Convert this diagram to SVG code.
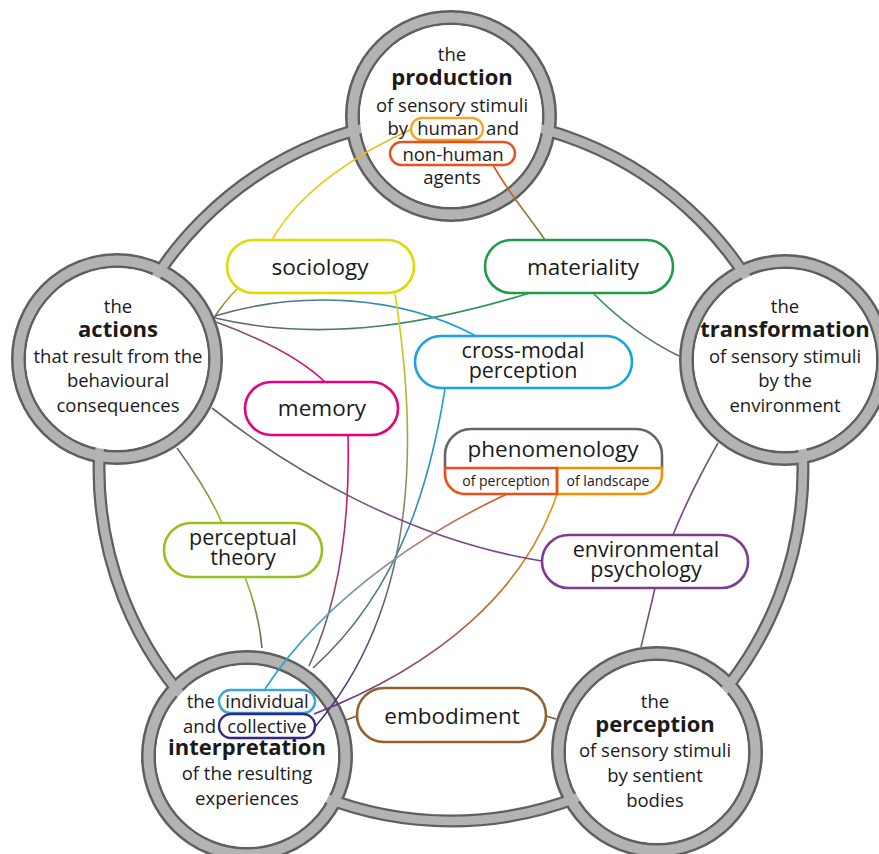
<svg xmlns="http://www.w3.org/2000/svg" width="879" height="854" viewBox="0 0 879 854">
  <style>
    text { font-family: "Open Sans", "Liberation Sans", sans-serif; fill: #1a1a1a; text-anchor: middle; }
    .t { font-size: 18.5px; }
    .b { font-size: 22px; font-weight: 700; }
    .p { font-size: 22.5px; }
    .p2 { font-size: 21.5px; }
    .s { font-size: 14px; }
    .ringDark { fill: none; stroke: #5f5f5f; }
    .ringLight { fill: none; stroke: #b3b3b3; }
    .hole { fill: #ffffff; }
    .pill { fill: #ffffff; stroke-width: 2.6; }
    .tag { fill: none; stroke-width: 2.4; }
    .link { fill: none; stroke-width: 1.6; }
  </style>
  <defs>
    <linearGradient id="g1" gradientUnits="userSpaceOnUse" x1="412" y1="129" x2="272" y2="240"><stop offset="0" stop-color="#f2b01e"/><stop offset="1" stop-color="#e3d800"/></linearGradient>
    <linearGradient id="g2" gradientUnits="userSpaceOnUse" x1="493" y1="165" x2="545" y2="240"><stop offset="0" stop-color="#e8501e"/><stop offset="1" stop-color="#5f8f3a"/></linearGradient>
    <linearGradient id="g3" gradientUnits="userSpaceOnUse" x1="214" y1="318" x2="238" y2="288"><stop offset="0" stop-color="#666"/><stop offset="1" stop-color="#c9c200"/></linearGradient>
    <linearGradient id="g4" gradientUnits="userSpaceOnUse" x1="215" y1="318" x2="530" y2="293"><stop offset="0" stop-color="#666"/><stop offset="1" stop-color="#1d9c4a"/></linearGradient>
    <linearGradient id="g5" gradientUnits="userSpaceOnUse" x1="215" y1="316" x2="476" y2="336"><stop offset="0" stop-color="#666"/><stop offset="1" stop-color="#1aa3e0"/></linearGradient>
    <linearGradient id="g6" gradientUnits="userSpaceOnUse" x1="216" y1="322" x2="325" y2="382"><stop offset="0" stop-color="#666"/><stop offset="1" stop-color="#e6007e"/></linearGradient>
    <linearGradient id="g7" gradientUnits="userSpaceOnUse" x1="594" y1="294" x2="679" y2="356"><stop offset="0" stop-color="#1d9c4a"/><stop offset="1" stop-color="#666"/></linearGradient>
    <linearGradient id="g8" gradientUnits="userSpaceOnUse" x1="395" y1="294" x2="314" y2="728"><stop offset="0" stop-color="#e3d800"/><stop offset="0.45" stop-color="#8a8a6a"/><stop offset="1" stop-color="#312782"/></linearGradient>
    <linearGradient id="g9" gradientUnits="userSpaceOnUse" x1="445" y1="389" x2="313" y2="668"><stop offset="0" stop-color="#1aa3e0"/><stop offset="1" stop-color="#666"/></linearGradient>
    <linearGradient id="g10" gradientUnits="userSpaceOnUse" x1="348" y1="436" x2="309" y2="666"><stop offset="0" stop-color="#e6007e"/><stop offset="1" stop-color="#666"/></linearGradient>
    <linearGradient id="g11" gradientUnits="userSpaceOnUse" x1="507" y1="494" x2="265" y2="689"><stop offset="0" stop-color="#e94e1b"/><stop offset="0.5" stop-color="#8a9aa0"/><stop offset="1" stop-color="#1aa3e0"/></linearGradient>
    <linearGradient id="g12" gradientUnits="userSpaceOnUse" x1="557" y1="494" x2="314" y2="714"><stop offset="0" stop-color="#f39200"/><stop offset="1" stop-color="#5b2d8e"/></linearGradient>
    <linearGradient id="g13" gradientUnits="userSpaceOnUse" x1="177" y1="448" x2="222" y2="523"><stop offset="0" stop-color="#666"/><stop offset="1" stop-color="#95c11f"/></linearGradient>
    <linearGradient id="g14" gradientUnits="userSpaceOnUse" x1="245" y1="577" x2="262" y2="648"><stop offset="0" stop-color="#95c11f"/><stop offset="1" stop-color="#666"/></linearGradient>
    <linearGradient id="g15" gradientUnits="userSpaceOnUse" x1="212" y1="408" x2="542" y2="561"><stop offset="0" stop-color="#666"/><stop offset="1" stop-color="#7d3c92"/></linearGradient>
    <linearGradient id="g16" gradientUnits="userSpaceOnUse" x1="718" y1="443" x2="673" y2="535"><stop offset="0" stop-color="#666"/><stop offset="1" stop-color="#7d3c92"/></linearGradient>
    <linearGradient id="g17" gradientUnits="userSpaceOnUse" x1="655" y1="588" x2="641" y2="647"><stop offset="0" stop-color="#7d3c92"/><stop offset="1" stop-color="#666"/></linearGradient>
  </defs>

  <!-- outer ring and the five hubs: dark outlines first, grey bands over them, then white faces -->
  <g id="ring">
    <circle class="ringDark" cx="451" cy="469" r="352" stroke-width="13"/>
    <circle class="ringDark" cx="451" cy="116" r="98.5" stroke-width="15"/>
    <circle class="ringDark" cx="785" cy="360" r="98.5" stroke-width="15"/>
    <circle class="ringDark" cx="657" cy="752" r="98.5" stroke-width="15"/>
    <circle class="ringDark" cx="247" cy="756" r="98.5" stroke-width="15"/>
    <circle class="ringDark" cx="117" cy="359" r="98.5" stroke-width="15"/>
    <circle class="ringLight" cx="451" cy="469" r="352" stroke-width="8.5"/>
    <circle class="ringLight" cx="451" cy="116" r="98.5" stroke-width="10"/>
    <circle class="ringLight" cx="785" cy="360" r="98.5" stroke-width="10"/>
    <circle class="ringLight" cx="657" cy="752" r="98.5" stroke-width="10"/>
    <circle class="ringLight" cx="247" cy="756" r="98.5" stroke-width="10"/>
    <circle class="ringLight" cx="117" cy="359" r="98.5" stroke-width="10"/>
    <circle class="hole" cx="451" cy="116" r="91"/>
    <circle class="hole" cx="785" cy="360" r="91"/>
    <circle class="hole" cx="657" cy="752" r="91"/>
    <circle class="hole" cx="247" cy="756" r="91"/>
    <circle class="hole" cx="117" cy="359" r="91"/>
  </g>

  <g id="connectors">
    <path class="link" stroke="url(#g1)" d="M412 129 C360 152 300 190 272 240"/>
    <path class="link" stroke="url(#g2)" d="M493 165 C510 195 528 215 545 240"/>
    <path class="link" stroke="url(#g3)" d="M214 318 C222 305 230 296 238 288"/>
    <path class="link" stroke="url(#g4)" d="M215 318 C330 345 440 320 530 293"/>
    <path class="link" stroke="url(#g5)" d="M215 316 C300 290 400 295 476 336"/>
    <path class="link" stroke="url(#g6)" d="M216 322 C260 338 300 358 325 382"/>
    <path class="link" stroke="url(#g7)" d="M594 294 C620 320 650 342 679 356"/>
    <path class="link" stroke="url(#g8)" d="M395 294 C415 420 425 600 314 728"/>
    <path class="link" stroke="url(#g9)" d="M445 389 C432 470 405 585 313 668"/>
    <path class="link" stroke="url(#g10)" d="M348 436 C350 520 340 600 309 666"/>
    <path class="link" stroke="url(#g11)" d="M507 494 C440 525 330 590 265 689"/>
    <path class="link" stroke="url(#g12)" d="M557 494 C525 590 440 665 314 714"/>
    <path class="link" stroke="url(#g13)" d="M177 448 C193 470 210 495 222 523"/>
    <path class="link" stroke="url(#g14)" d="M245 577 C254 600 260 625 262 648"/>
    <path class="link" stroke="url(#g15)" d="M212 408 C290 470 410 540 542 561"/>
    <path class="link" stroke="url(#g16)" d="M718 443 C700 475 685 505 673 535"/>
    <path class="link" stroke="url(#g17)" d="M655 588 C650 610 645 630 641 647"/>
    <path class="link" stroke="#7a5a3a" d="M357 716 L346 720"/>
    <path class="link" stroke="#7a5a3a" d="M546 716 L556 719"/>
  </g>

  <g id="production">
    <rect class="tag" stroke="#f5a623" x="411" y="118" width="72" height="22" rx="11"/>
    <rect class="tag" stroke="#e8501e" x="390" y="142" width="125" height="23" rx="11.5"/>
    <text class="t" x="452" y="61">the</text>
    <text class="b" x="452" y="85">production</text>
    <text class="t" x="452" y="112">of sensory stimuli</text>
    <text class="t" x="408" y="135" style="text-anchor:end">by</text>
    <text class="t" x="448" y="135">human</text>
    <text class="t" x="486" y="135" style="text-anchor:start">and</text>
    <text class="t" x="453" y="161">non-human</text>
    <text class="t" x="452" y="184">agents</text>
  </g>

  <g id="transformation">
    <text class="t" x="785" y="313">the</text>
    <text class="b" x="785" y="337">transformation</text>
    <text class="t" x="785" y="363">of sensory stimuli</text>
    <text class="t" x="785" y="387">by the</text>
    <text class="t" x="785" y="412">environment</text>
  </g>

  <g id="perception">
    <text class="t" x="655" y="708">the</text>
    <text class="b" x="655" y="732">perception</text>
    <text class="t" x="655" y="757">of sensory stimuli</text>
    <text class="t" x="655" y="782">by sentient</text>
    <text class="t" x="655" y="807">bodies</text>
  </g>

  <g id="interpretation">
    <rect class="tag" stroke="#3aa5dc" x="219" y="690" width="96" height="23" rx="11.5"/>
    <rect class="tag" stroke="#312782" x="219" y="714" width="96" height="24" rx="12"/>
    <text class="t" x="215" y="708" style="text-anchor:end">the</text>
    <text class="t" x="267" y="708">individual</text>
    <text class="t" x="216" y="733" style="text-anchor:end">and</text>
    <text class="t" x="267" y="733">collective</text>
    <text class="b" x="247" y="755">interpretation</text>
    <text class="t" x="247" y="780">of the resulting</text>
    <text class="t" x="247" y="805">experiences</text>
  </g>

  <g id="actions">
    <text class="t" x="118" y="313">the</text>
    <text class="b" x="118" y="337">actions</text>
    <text class="t" x="118" y="363">that result from the</text>
    <text class="t" x="118" y="387">behavioural</text>
    <text class="t" x="118" y="412">consequences</text>
  </g>

  <g id="sociology">
    <rect class="pill" stroke="#e3d800" x="227" y="240" width="187" height="53" rx="26.5"/>
    <text class="p" x="320" y="275">sociology</text>
  </g>

  <g id="materiality">
    <rect class="pill" stroke="#1d9c4a" x="485" y="240" width="188" height="53" rx="26.5"/>
    <text class="p" x="583" y="275">materiality</text>
  </g>

  <g id="cross-modal">
    <rect class="pill" stroke="#1aa3e0" x="415" y="336" width="217" height="52" rx="26"/>
    <text class="p2" x="523" y="358">cross-modal</text>
    <text class="p2" x="523" y="378">perception</text>
  </g>

  <g id="memory">
    <rect class="pill" stroke="#e6007e" x="245" y="382" width="153" height="53" rx="26.5"/>
    <text class="p" x="322" y="416">memory</text>
  </g>

  <g id="phenomenology">
    <path fill="#ffffff" d="M445 468 V455 A26 26 0 0 1 471 429 H636 A26 26 0 0 1 662 455 V474 A20 20 0 0 1 642 494 H465 A20 20 0 0 1 445 474 Z"/>
    <path fill="none" stroke="#666" stroke-width="2.6" d="M445 468 V455 A26 26 0 0 1 471 429 H636 A26 26 0 0 1 662 455 V468"/>
    <path fill="none" stroke="#f39200" stroke-width="2.6" d="M557 468 H662 V474 A20 20 0 0 1 642 494 H557 Z"/>
    <path fill="none" stroke="#e94e1b" stroke-width="2.6" d="M557 468 H445 V474 A20 20 0 0 0 465 494 H557 Z"/>
    <text class="p" x="553" y="457">phenomenology</text>
    <text class="s" x="506" y="486">of perception</text>
    <text class="s" x="608" y="486">of landscape</text>
  </g>

  <g id="perceptual-theory">
    <rect class="pill" stroke="#95c11f" x="164" y="523" width="158" height="54" rx="27"/>
    <text class="p2" x="243" y="545">perceptual</text>
    <text class="p2" x="243" y="565">theory</text>
  </g>

  <g id="environmental-psychology">
    <rect class="pill" stroke="#7d3c92" x="542" y="535" width="206" height="53" rx="26.5"/>
    <text class="p2" x="646" y="557">environmental</text>
    <text class="p2" x="646" y="577">psychology</text>
  </g>

  <g id="embodiment">
    <rect class="pill" stroke="#95602f" x="357" y="688" width="189" height="54" rx="27"/>
    <text class="p" x="452" y="724">embodiment</text>
  </g>
</svg>
